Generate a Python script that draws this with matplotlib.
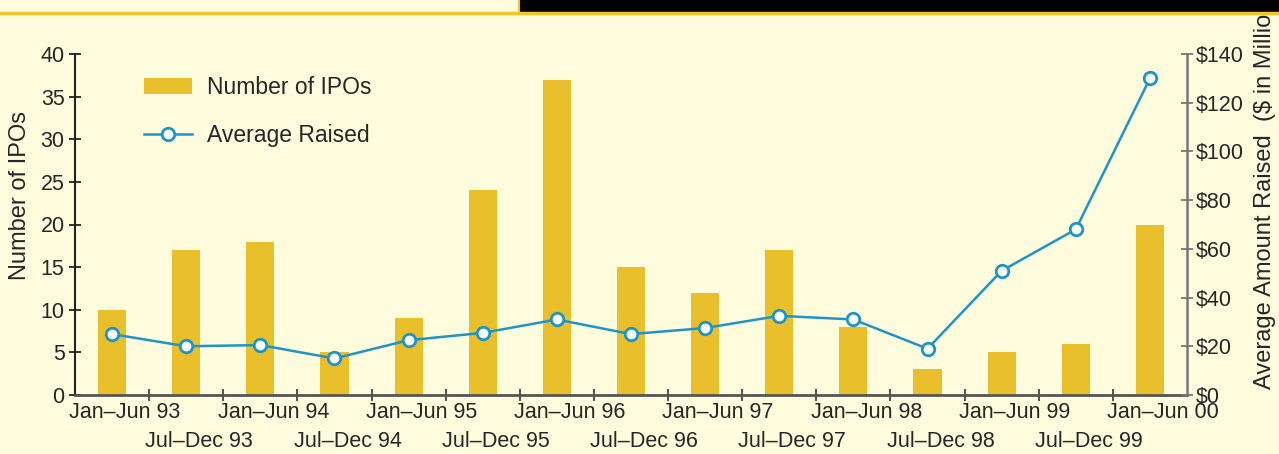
import matplotlib
matplotlib.use("Agg")
import matplotlib.pyplot as plt
import matplotlib.transforms as mtransforms
from matplotlib.patches import Rectangle
from matplotlib.lines import Line2D

plt.rcParams['font.family'] = ['Liberation Sans', 'DejaVu Sans']

# half-year periods
periods = ['Jan–Jun 93', 'Jul–Dec 93', 'Jan–Jun 94', 'Jul–Dec 94', 'Jan–Jun 95',
           'Jul–Dec 95', 'Jan–Jun 96', 'Jul–Dec 96', 'Jan–Jun 97', 'Jul–Dec 97',
           'Jan–Jun 98', 'Jul–Dec 98', 'Jan–Jun 99', 'Jul–Dec 99', 'Jan–Jun 00']
ipo_counts = [10, 17, 18, 5, 9, 24, 37, 15, 12, 17, 8, 3, 5, 6, 20]
avg_raised = [25, 20, 20.5, 15, 22.5, 25.5, 31, 25, 27.5, 32.5, 31, 19, 51, 68, 130]

left_ticks = [0, 5, 10, 15, 20, 25, 30, 35, 40]
right_ticks = [0, 20, 40, 60, 80, 100, 120, 140]
right_labels = ['$0', '$20', '$40', '$60', '$80', '$100', '$120', '$140']

bg = '#fefcdd'
bar_color = '#e9bf2c'
line_color = '#1e95c8'
text_color = '#262626'

fig = plt.figure(figsize=(12.79, 4.54), dpi=100, facecolor=bg)
ax = fig.add_axes([75 / 1279, 59 / 454, 1112 / 1279, 341 / 454])
ax.set_facecolor(bg)
ax2 = ax.twinx()

x = list(range(len(periods)))
bars = ax.bar(x, ipo_counts, width=0.38, color=bar_color, label='Number of IPOs', zorder=2)
line, = ax2.plot(x, avg_raised, color=line_color, lw=1.8, marker='o', markersize=9,
                 markerfacecolor='white', markeredgecolor=line_color, markeredgewidth=2,
                 label='Average Raised', zorder=3)

ax.set_xlim(-0.5, len(periods) - 0.5)
ax.set_ylim(0, 40)
ax2.set_ylim(0, 140)

# spines
for a in (ax, ax2):
    a.spines['top'].set_visible(False)
ax2.spines['left'].set_visible(False)
ax2.spines['bottom'].set_visible(False)
ax.spines['right'].set_visible(False)
ax.spines['left'].set_color('#222222')
ax.spines['left'].set_linewidth(1.5)
ax.spines['bottom'].set_color('#555555')
ax.spines['bottom'].set_linewidth(2)
ax2.spines['right'].set_color('#777777')
ax2.spines['right'].set_linewidth(1.8)

# y ticks
ax.set_yticks(left_ticks)
ax.tick_params(axis='y', direction='inout', length=9, width=1.3, color='#222222',
               labelsize=15.5, labelcolor=text_color, pad=3)
ax2.set_yticks(right_ticks)
ax2.set_yticklabels(right_labels)
ax2.tick_params(axis='y', direction='inout', length=9, width=1.3, color='#777777',
                labelsize=15.5, labelcolor=text_color, pad=2)

# x ticks: first half of each year on row one, second half on row two
offset = mtransforms.ScaledTranslation(0.13, 0, fig.dpi_scale_trans)
ax.set_xticks(x[0::2])
ax.set_xticklabels(periods[0::2])
ax.set_xticks([i + 0.5 for i in range(len(periods) - 1)], minor=True)
ax.tick_params(axis='x', which='major', length=0, labelsize=15.5, labelcolor=text_color, pad=5)
ax.tick_params(axis='x', which='minor', direction='inout', length=8, width=1.3, color='#444444')
for lab in ax.get_xticklabels():
    lab.set_transform(lab.get_transform() + offset)

row2 = ax.secondary_xaxis('bottom')
row2.set_xticks(x[1::2])
row2.set_xticklabels(periods[1::2])
row2.tick_params(axis='x', length=0, labelsize=15.5, labelcolor=text_color, pad=26)
row2.spines['bottom'].set_visible(False)
for lab in row2.get_xticklabels():
    lab.set_transform(lab.get_transform() + offset)

# axis titles
fig.text(20 / 1279, (454 - 195) / 454, 'Number of IPOs', rotation=90, ha='center', va='center',
         fontsize=17, color=text_color)
fig.text(1265 / 1279, (454 - 389) / 454, 'Average Amount Raised  ($ in Millions)', rotation=90,
         ha='center', va='bottom', fontsize=17, color=text_color)

ax2.legend([bars, line], ['Number of IPOs', 'Average Raised'], loc='upper left',
           bbox_to_anchor=(0.062, 0.935), frameon=False, fontsize=16.5, handlelength=2.1,
           handletextpad=0.65, labelspacing=1.1, borderpad=0, borderaxespad=0,
           labelcolor=text_color)

# header band
fig.add_artist(Rectangle((520 / 1279, (454 - 11) / 454), 1 - 520 / 1279, 11 / 454,
                         transform=fig.transFigure, color='black', zorder=5))
fig.add_artist(Line2D([0, 1], [(454 - 13) / 454] * 2, transform=fig.transFigure,
                      color='#f5c42c', lw=2.5, zorder=6))
fig.add_artist(Line2D([519 / 1279] * 2, [(454 - 13) / 454, 1], transform=fig.transFigure,
                      color='#f5c42c', lw=1.5, zorder=6))

fig.savefig('out.png', dpi=100, facecolor=bg)
